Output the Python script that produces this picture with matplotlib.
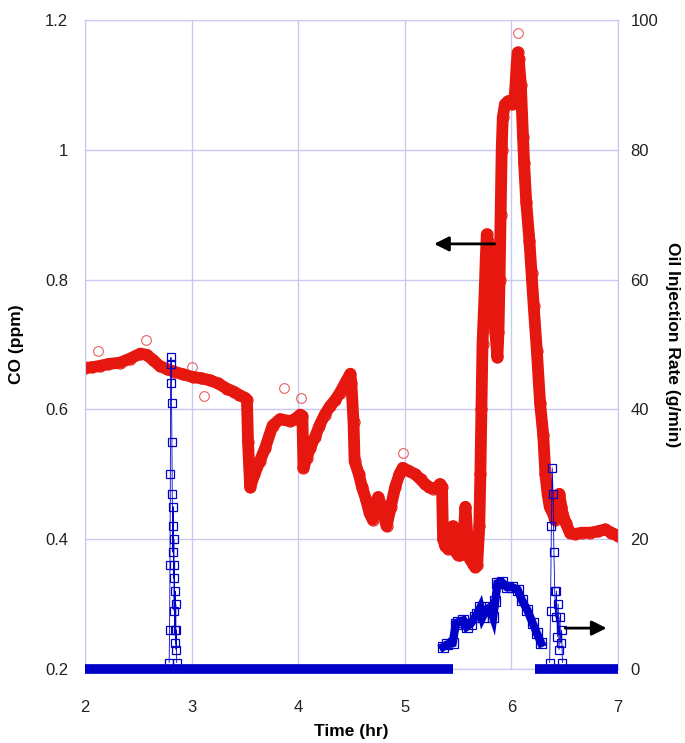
import matplotlib.pyplot as plt

plt.rcParams['font.family'] = ['Liberation Sans', 'DejaVu Sans']

# CO trace (left axis)
time_co = [2.00, 2.07, 2.14, 2.22, 2.33, 2.42, 2.52, 2.58, 2.64, 2.70, 2.77, 2.84,
           2.92, 3.01, 3.09, 3.17, 3.25, 3.33, 3.40, 3.45, 3.50, 3.52, 3.53, 3.55,
           3.59, 3.64, 3.69, 3.76, 3.83, 3.92, 3.97, 4.02, 4.04, 4.05, 4.08, 4.11,
           4.16, 4.20, 4.25, 4.30, 4.35, 4.39, 4.44, 4.49, 4.50, 4.52, 4.53, 4.57,
           4.60, 4.64, 4.67, 4.70, 4.72, 4.75, 4.78, 4.80, 4.83, 4.87, 4.91, 4.95,
           4.98, 5.04, 5.10, 5.15, 5.19, 5.23, 5.27, 5.30, 5.33, 5.35, 5.36, 5.38,
           5.41, 5.43, 5.45, 5.47, 5.48, 5.50, 5.52, 5.55, 5.57, 5.59, 5.61, 5.64,
           5.66, 5.68, 5.70, 5.71, 5.72, 5.73, 5.74, 5.75, 5.76, 5.77, 5.78, 5.80,
           5.82, 5.85, 5.87, 5.88, 5.89, 5.90, 5.91, 5.92, 5.94, 5.97, 6.01, 6.03,
           6.04, 6.05, 6.06, 6.07, 6.09, 6.11, 6.12, 6.14, 6.17, 6.19, 6.21, 6.24,
           6.27, 6.30, 6.32, 6.34, 6.36, 6.39, 6.41, 6.43, 6.45, 6.47, 6.48, 6.51,
           6.55, 6.60, 6.66, 6.74, 6.81, 6.88, 6.94, 7.00]
co_ppm = [0.664, 0.665, 0.667, 0.670, 0.672, 0.678, 0.686, 0.684, 0.676, 0.667, 0.662, 0.658,
          0.654, 0.650, 0.648, 0.645, 0.640, 0.632, 0.627, 0.622, 0.618, 0.615, 0.55, 0.48,
          0.50, 0.52, 0.54, 0.575, 0.585, 0.582, 0.585, 0.592, 0.590, 0.510, 0.525, 0.540,
          0.558, 0.575, 0.592, 0.605, 0.615, 0.625, 0.640, 0.655, 0.640, 0.580, 0.520, 0.500,
          0.480, 0.460, 0.440, 0.430, 0.445, 0.465, 0.452, 0.440, 0.420, 0.450, 0.480, 0.500,
          0.510, 0.505, 0.500, 0.492, 0.485, 0.480, 0.478, 0.480, 0.485, 0.480, 0.400, 0.390,
          0.385, 0.400, 0.420, 0.400, 0.380, 0.376, 0.375, 0.400, 0.450, 0.400, 0.370, 0.362,
          0.357, 0.360, 0.420, 0.500, 0.600, 0.700, 0.740, 0.780, 0.830, 0.870, 0.860, 0.820,
          0.780, 0.720, 0.680, 0.720, 0.800, 0.900, 1.000, 1.050, 1.070, 1.075, 1.070, 1.080,
          1.100, 1.130, 1.150, 1.140, 1.100, 1.020, 0.980, 0.920, 0.860, 0.810, 0.760, 0.690,
          0.610, 0.560, 0.500, 0.470, 0.450, 0.440, 0.430, 0.450, 0.470, 0.450, 0.440, 0.425,
          0.410, 0.408, 0.410, 0.410, 0.412, 0.415, 0.410, 0.405]

# scattered CO points sitting off the main band
time_co_out = [2.12, 2.57, 3.00, 3.12, 3.87, 4.03, 4.98, 6.06]
co_ppm_out = [0.690, 0.707, 0.665, 0.620, 0.633, 0.617, 0.533, 1.180]

# oil injection rate (right axis), three bursts of injection
time_oil_1 = [2.790, 2.794, 2.798, 2.801, 2.804, 2.807, 2.810, 2.813, 2.816, 2.819,
              2.822, 2.825, 2.828, 2.831, 2.834, 2.837, 2.840, 2.843, 2.846, 2.849,
              2.852, 2.855, 2.858, 2.861]
oil_rate_1 = [1, 6, 16, 30, 44, 48, 47, 41, 35, 27, 22, 18, 25, 14, 20, 9, 16, 6, 12,
              4, 10, 3, 6, 1]

time_oil_2 = [5.36, 5.40, 5.45, 5.48, 5.50, 5.55, 5.58, 5.62, 5.66, 5.68, 5.71, 5.73,
              5.76, 5.80, 5.83, 5.85, 5.87, 5.91, 5.96, 6.01, 6.06, 6.10, 6.15, 6.20,
              6.24, 6.28]
oil_rate_2 = [3.4, 3.8, 4.0, 7.0, 7.2, 7.5, 6.5, 7.0, 8.0, 8.5, 9.5, 8.0,
              9.0, 9.5, 8.0, 10.5, 13.2, 13.4, 12.6, 12.6, 12.2, 10.6, 9.1, 7.1,
              5.5, 4.0]

time_oil_3 = [6.360, 6.368, 6.376, 6.384, 6.392, 6.400, 6.408, 6.416, 6.424, 6.432,
              6.440, 6.448, 6.456, 6.464, 6.472, 6.480]
oil_rate_3 = [1, 9, 22, 31, 27, 18, 12, 8, 12, 5, 10, 3, 8, 4, 6, 1]

# periods where the injection rate is zero
off_periods = [(2.0, 5.45), (6.22, 7.0)]

red = '#e6170f'
blue = '#0000c8'
grid_c = '#c8c8f0'

fig = plt.figure(figsize=(6.85, 7.43), dpi=100)
ax = fig.add_axes([0.124, 0.0996, 0.778, 0.8735])
ax2 = ax.twinx()

ax.plot(time_co, co_ppm, color=red, lw=8.5, solid_joinstyle='round',
        solid_capstyle='round', zorder=3)
ax.plot(time_co, co_ppm, ls='none', marker='o', ms=8, mfc='none', mec=red, mew=0.8, zorder=3)
ax.plot(time_co_out, co_ppm_out, ls='none', marker='o', ms=7, mfc='none', mec='#e86060', mew=0.8)

ax2.plot(time_oil_1, oil_rate_1, color=blue, lw=0.6, marker='s', ms=6, mfc='none', mec=blue, mew=0.9)
ax2.plot(time_oil_2, oil_rate_2, color=blue, lw=6, solid_joinstyle='miter')
ax2.plot(time_oil_2, oil_rate_2, ls='none', marker='s', ms=7, mfc='none', mec=blue, mew=0.9)
ax2.plot(time_oil_3, oil_rate_3, color=blue, lw=0.6, marker='s', ms=6, mfc='none', mec=blue, mew=0.9)
for start, end in off_periods:
    ax2.hlines(0, start, end, color=blue, lw=7, clip_on=False, zorder=5)

ax.set_xlim(2, 7)
ax.set_ylim(0.2, 1.2)
ax2.set_ylim(0, 100)
ax.set_xticks([2, 3, 4, 5, 6, 7])
ax.set_yticks([0.2, 0.4, 0.6, 0.8, 1.0, 1.2])
ax.set_yticklabels(['0.2', '0.4', '0.6', '0.8', '1', '1.2'])
ax2.set_yticks([0, 20, 40, 60, 80, 100])

ax.grid(True, color=grid_c, lw=1)
ax.set_axisbelow(True)
for a in (ax, ax2):
    for s in a.spines.values():
        s.set_color(grid_c)
ax.tick_params(axis='both', length=0, labelsize=12, labelcolor='#222222')
ax.tick_params(axis='x', pad=22)
ax.tick_params(axis='y', pad=12)
ax2.tick_params(axis='y', length=0, labelsize=12, labelcolor='#222222', pad=9)

ax.set_xlabel('Time (hr)', fontsize=12.5, fontweight='bold', va='center')
ax.set_ylabel('CO (ppm)', fontsize=12.5, fontweight='bold', va='center')
ax2.set_ylabel('Oil Injection Rate (g/min)', fontsize=12.5, fontweight='bold',
               rotation=270, va='center')
ax.xaxis.set_label_coords(0.5, -0.097)
ax.yaxis.set_label_coords(-0.128, 0.5)
ax2.yaxis.set_label_coords(1.103, 0.5)

ax.annotate('', xy=(5.25, 0.855), xytext=(5.87, 0.855),
            arrowprops=dict(arrowstyle='-|>', color='black', lw=2, mutation_scale=22))
ax2.annotate('', xy=(6.92, 6.3), xytext=(6.48, 6.3),
             arrowprops=dict(arrowstyle='-|>', color='black', lw=2, mutation_scale=22))

fig.savefig('out.png', dpi=100)
